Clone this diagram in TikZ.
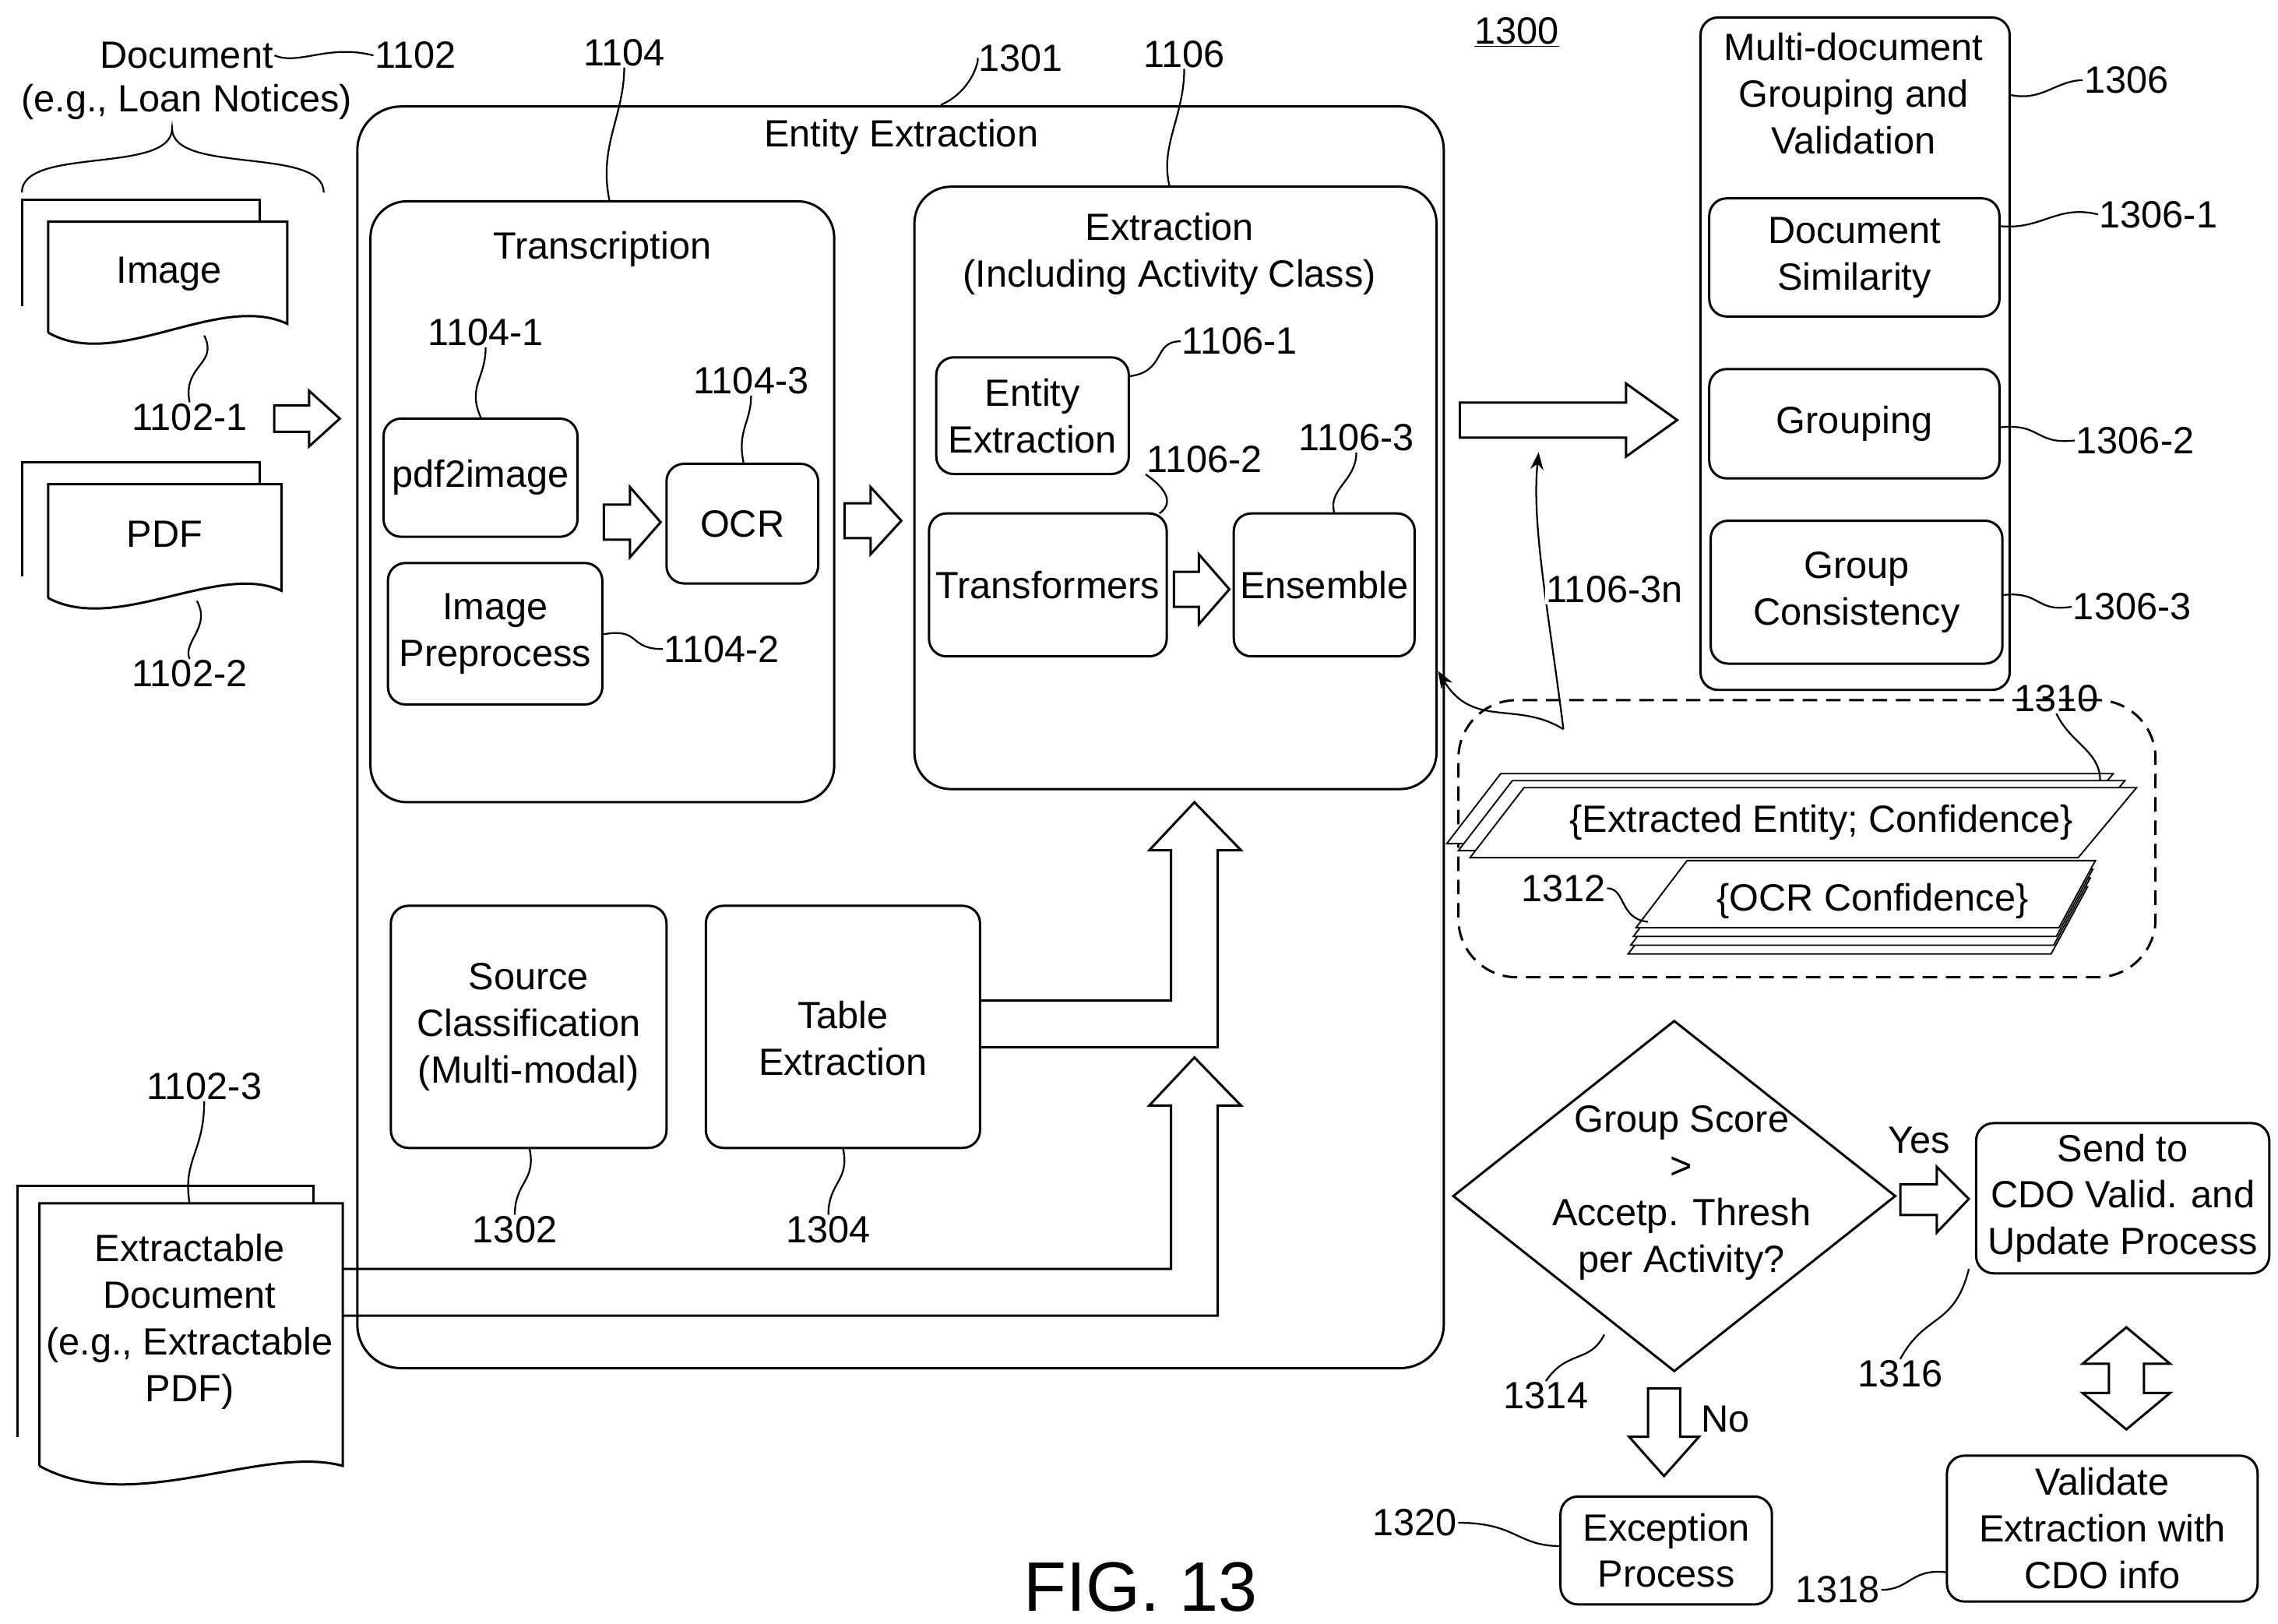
\documentclass[tikz,border=0pt]{standalone}
\usepackage{fontspec}
\setmainfont{Liberation Sans}
\usetikzlibrary{shapes.geometric,arrows.meta}
\begin{document}
\begin{tikzpicture}[x=1pt,y=-1pt,line width=1.6pt,
  every node/.style={font=\fontsize{26}{32}\selectfont,align=center,outer sep=0pt},
  box/.style={draw,rounded corners=12pt},
  lbl/.style={inner sep=1pt},
  ld/.style={line width=1.2pt},
  page/.style={draw,fill=white}]
\useasboundingbox (0,0) rectangle (1562,1113);
% documents
\node[lbl] (doc) at (128,38) {Document};
\node[lbl] at (128,70) {(e.g., Loan Notices)};
\node[lbl] (n1102) at (285,38) {1102};
\draw[ld] (doc.east) .. controls (205,45) and (225,30) .. (n1102.west);
\draw[ld] (15,132) .. controls (15,100) and (118,120) .. (118,88) .. controls (118,120) and (222,100) .. (222,132);
% image stack
\draw[page] (15,210) -- (15,137) -- (178,137) -- (178,200);
\draw[page] (33,228) -- (33,152) -- (197,152) -- (197,222) .. controls (150,200) and (80,255) .. (33,228);
\node (img) at (116,188) {Image};
\node[lbl] (n11021) at (130,286) {1102-1};
\draw[ld] (n11021.north) .. controls (125,250) and (150,250) .. (140,230);
% pdf stack
\draw[page] (15,395) -- (15,317) -- (178,317) -- (178,380);
\draw[page] (33,410) -- (33,332) -- (193,332) -- (193,405) .. controls (150,385) and (80,435) .. (33,410);
\node (pdf) at (113,366) {PDF};
\node[lbl] (n11022) at (130,462) {1102-2};
\draw[ld] (n11022.north) .. controls (125,440) and (145,430) .. (135,412);
% hollow arrow to entity extraction
\draw (188,278) -- (212,278) -- (212,268) -- (233,287) -- (212,306) -- (212,296) -- (188,296) -- cycle;
% Entity Extraction big box
\node[box,minimum width=745pt,minimum height=865pt,anchor=north west,rounded corners=30pt] (ee) at (245,73) {};
\node at (618,94) {Entity Extraction};
\node[lbl] (n1301) at (700,40) {1301};
\coordinate (c1301) at (645,72);
\draw[ld] (n1301.west) .. controls (672,38) and (668,62) .. (c1301);
% Transcription
\node[box,minimum width=318pt,minimum height=412pt,anchor=north west,rounded corners=25pt] (tr) at (254,138) {};
\node at (413,171) {Transcription};
\node[lbl] (n1104) at (428,36) {1104};
\draw[ld] (n1104.south) .. controls (428,80) and (410,100) .. (418,138);
\node[box,minimum width=133pt,minimum height=81pt,anchor=north west,inner sep=0pt] (pdfi) at (263,287) {};
\node at (pdfi.center) {pdf2image};
\node[lbl] (n11041) at (333,228) {1104-1};
\draw[ld] (n11041.south) .. controls (333,260) and (320,265) .. (330,287);
\node[box,minimum width=147pt,minimum height=97pt,anchor=north west] (ipp) at (266,386) {};
\node at (ipp.center) {Image\\Preprocess};
\node[lbl] (n11042) at (495,445) {1104-2};
\draw[ld] (n11042.west) .. controls (430,445) and (440,430) .. (413,435);
\node[box,minimum width=104pt,minimum height=82pt,anchor=north west] (ocr) at (457,318) {};
\node at (ocr.center) {OCR};
\node[lbl] (n11043) at (515,261) {1104-3};
\draw[ld] (n11043.south) .. controls (515,290) and (505,295) .. (510,318);
\draw (414,346) -- (432,346) -- (432,334) -- (453,358) -- (432,382) -- (432,370) -- (414,370) -- cycle;
\draw (579,345) -- (597,345) -- (597,334) -- (618,357) -- (597,380) -- (597,369) -- (579,369) -- cycle;
% Extraction
\node[box,minimum width=358pt,minimum height=413pt,anchor=north west,rounded corners=25pt] (ex) at (627,128) {};
\node at (802,174) {Extraction\\(Including Activity Class)};
\node[lbl] (n1106) at (812,37) {1106};
\draw[ld] (n1106.south) .. controls (812,80) and (795,100) .. (802,128);
\node[box,minimum width=132pt,minimum height=80pt,anchor=north west] (ent) at (642,245) {};
\node at (ent.center) {Entity\\Extraction};
\node[lbl] (n11061) at (850,234) {1106-1};
\draw[ld] (n11061.west) .. controls (790,234) and (800,255) .. (774,258);
\node[box,minimum width=163pt,minimum height=98pt,anchor=north west] (trf) at (637,352) {};
\node at (trf.center) {Transformers};
\node[lbl] (n11062) at (826,315) {1106-2};
\draw[ld] (n11062.south west) .. controls (800,335) and (805,345) .. (795,352);
\node[box,minimum width=124pt,minimum height=98pt,anchor=north west] (ens) at (846,352) {};
\node at (ens.center) {Ensemble};
\node[lbl] (n11063) at (930,300) {1106-3};
\draw[ld] (n11063.south) .. controls (930,330) and (910,335) .. (915,352);
\draw (805,392) -- (822,392) -- (822,380) -- (843,404) -- (822,428) -- (822,416) -- (805,416) -- cycle;
% Source / Table
\node[box,minimum width=189pt,minimum height=166pt,anchor=north west] (src) at (268,621) {};
\node at (src.center) {Source\\Classification\\(Multi-modal)};
\node[lbl] (n1302) at (353,843) {1302};
\draw[ld] (n1302.north) .. controls (353,810) and (368,810) .. (363,787);
\node[box,minimum width=188pt,minimum height=166pt,anchor=north west] (tab) at (484,621) {};
\node at ([yshift=-8pt]tab.center) {Table\\Extraction};
\node[lbl] (n1304) at (568,843) {1304};
\draw[ld] (n1304.north) .. controls (568,810) and (583,810) .. (578,787);
% big up arrows
\draw (672,686) -- (803,686) -- (803,583) -- (788,583) -- (819,550) -- (851,583) -- (835,583) -- (835,718) -- (672,718);
\draw (235,870) -- (803,870) -- (803,758) -- (788,758) -- (819,725) -- (851,758) -- (835,758) -- (835,902) -- (235,902);
% Extractable document
\draw[page] (12,985) -- (12,813) -- (215,813) -- (215,825);
\draw[page] (27,1005) -- (27,825) -- (235,825) -- (235,1005) .. controls (180,990) and (90,1040) .. (27,1005);
\node (xd) at (130,906) {Extractable\\Document\\(e.g., Extractable\\PDF)};
\node[lbl] (n11023) at (140,745) {1102-3};
\draw[ld] (n11023.south) .. controls (140,790) and (125,795) .. (130,825);
% right output arrow
\draw (1001,276) -- (1115,276) -- (1115,263) -- (1150,288) -- (1115,313) -- (1115,300) -- (1001,300) -- cycle;
\draw[ld,-{Stealth[length=12pt]}] (1072,500) .. controls (1062,420) and (1050,360) .. (1055,310);
\draw[ld,-{Stealth[length=12pt]}] (1072,500) .. controls (1040,480) and (1010,500) .. (986,460);
\node[lbl,fill=white] (n1106n) at (1107,404) {1106-3n};
\node[lbl] at (1040,22) {\underline{1300}};
% multi-doc
\node[box,minimum width=212pt,minimum height=461pt,anchor=north west] (md) at (1166,12) {};
\node at (1271,64) {Multi-document\\Grouping and\\Validation};
\node[lbl] (n1306) at (1458,55) {1306};
\draw[ld] (n1306.west) .. controls (1410,55) and (1400,70) .. (1378,65);
\node[box,minimum width=199pt,minimum height=81pt,anchor=north west] (ds) at (1172,136) {};
\node at (ds.center) {Document\\Similarity};
\node[lbl] (n13061) at (1480,147) {1306-1};
\draw[ld] (n13061.west) .. controls (1410,140) and (1400,158) .. (1371,155);
\node[box,minimum width=199pt,minimum height=75pt,anchor=north west] (gr) at (1172,253) {};
\node at (gr.center) {Grouping};
\node[lbl] (n13062) at (1464,302) {1306-2};
\draw[ld] (n13062.west) .. controls (1395,305) and (1400,290) .. (1371,293);
\node[box,minimum width=200pt,minimum height=98pt,anchor=north west] (gc) at (1173,357) {};
\node at (gc.center) {Group\\Consistency};
\node[lbl] (n13063) at (1462,416) {1306-3};
\draw[ld] (n13063.west) .. controls (1395,420) and (1400,405) .. (1373,408);
% dashed container
\node[draw,dash pattern=on 10pt off 6pt,rounded corners=40pt,minimum width=478pt,minimum height=190pt,anchor=north west] (dc) at (1000,480) {};
\foreach \d in {16,8,0} {
  \draw[line width=1pt,fill=white] (1045-\d,540-\d*0.6) -- (1465-\d,540-\d*0.6) -- (1425-\d,588-\d*0.6) -- (1008-\d,588-\d*0.6) -- cycle;
}
\node at (1249,564) {\{Extracted Entity; Confidence\}};
\node[lbl] (n1310) at (1410,479) {1310};
\draw[ld] (n1310.south) .. controls (1420,510) and (1440,515) .. (1440,535);
\foreach \d in {-12,-6,0,6} {
  \draw[line width=1pt,fill=white] (1155+\d*0.3,596-\d) -- (1435+\d*0.3,596-\d) -- (1410+\d*0.3,642-\d) -- (1120+\d*0.3,642-\d) -- cycle;
}
\node at (1284,618) {\{OCR Confidence\}};
\node[lbl] (n1312) at (1072,609) {1312};
\draw[ld] (n1312.east) .. controls (1115,609) and (1110,630) .. (1130,632);
% decision
\node[draw,diamond,minimum width=303pt,minimum height=240pt,inner sep=0pt] (dia) at (1148,820) {};
\node at (1153,818) {Group Score\\>\\Accetp. Thresh\\per Activity?};
\node[lbl] (n1314) at (1060,957) {1314};
\draw[ld] (n1314.north) .. controls (1075,925) and (1090,935) .. (1100,915);
\node[lbl] at (1316,782) {Yes};
\draw (1303,812) -- (1328,812) -- (1328,800) -- (1350,822) -- (1328,845) -- (1328,833) -- (1303,833) -- cycle;
\node[box,minimum width=201pt,minimum height=103pt,anchor=north west] (cdo) at (1355,770) {};
\node at (cdo.center) {Send to\\CDO Valid. and\\Update Process};
\node[lbl] (n1316) at (1303,942) {1316};
\draw[ld] (n1316.north) .. controls (1320,900) and (1340,910) .. (1350,870);
\draw (1458,910) -- (1488,935) -- (1470,935) -- (1470,955) -- (1488,955) -- (1458,980) -- (1428,955) -- (1446,955) -- (1446,935) -- (1428,935) -- cycle;
\node[box,minimum width=213pt,minimum height=100pt,anchor=north west] (val) at (1335,998) {};
\node at (val.center) {Validate\\Extraction with\\CDO info};
\node[lbl] (n1318) at (1260,1090) {1318};
\draw[ld] (n1318.east) .. controls (1310,1090) and (1310,1075) .. (1335,1078);
\draw (1130,952) -- (1152,952) -- (1152,985) -- (1165,985) -- (1141,1012) -- (1117,985) -- (1130,985) -- cycle;
\node[lbl] at (1183,973) {No};
\node[box,minimum width=145pt,minimum height=74pt,anchor=north west] (exc) at (1070,1026) {};
\node at (exc.center) {Exception\\Process};
\node[lbl] (n1320) at (970,1044) {1320};
\draw[ld] (n1320.east) .. controls (1040,1044) and (1040,1060) .. (1070,1060);
\node at (782,1088) {\fontsize{48}{50}\selectfont FIG. 13};
\end{tikzpicture}
\end{document}
